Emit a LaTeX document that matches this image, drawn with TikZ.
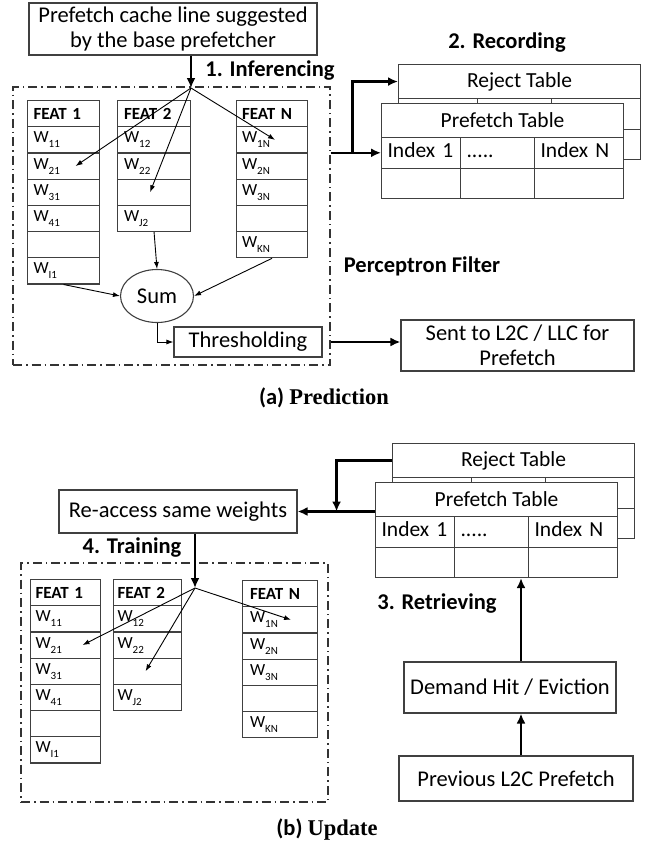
\documentclass[tikz,border=0pt]{standalone}
\usepackage{fontspec}
\setmainfont{Carlito}
\newfontfamily\capfont{Liberation Serif}
\usetikzlibrary{shapes.geometric,arrows.meta}

% weight with subscript
\newcommand{\wgt}[1]{W\raisebox{-5pt}{\fontsize{11}{11}\selectfont #1}}

% one column of perceptron weights: name, left, top, width, cells
\newcommand{\featcol}[5]{%
  \foreach \lab [count=\ri from 0] in {#5}
    \node[wcell, minimum width=#4pt] (#1-\ri) at (#2,{#3+\ri*26.2}) {\lab};%
}

% reject / prefetch table: name, left, top, title, three index cells
\newcommand{\cachetab}[7]{%
  \node[tcell, minimum width=242pt, minimum height=34pt] (#1-h) at (#2,#3) {#4};
  \node[tcell, minimum width=79pt, text width=67pt] (#1-a1) at (#2,{#3+34}) {\strut#5};
  \node[tcell, minimum width=74pt, text width=62pt] (#1-b1) at ({#2+79},{#3+34}) {\strut#6};
  \node[tcell, minimum width=89pt, text width=77pt] (#1-c1) at ({#2+153},{#3+34}) {\strut#7};
  \node[tcell, minimum width=79pt] (#1-a2) at (#2,{#3+64.5}) {};
  \node[tcell, minimum width=74pt] (#1-b2) at ({#2+79},{#3+64.5}) {};
  \node[tcell, minimum width=89pt] (#1-c2) at ({#2+153},{#3+64.5}) {};%
}

\begin{document}
\begin{tikzpicture}[x=1pt, y=-1pt,
    every node/.style={font=\fontsize{22.5}{25}\selectfont},
    box/.style={draw=black!75, line width=1.1pt, inner sep=0pt, align=center},
    wcell/.style={draw=black!75, line width=1.1pt, anchor=north west, inner sep=0pt,
      minimum height=26.2pt, text width=60pt, align=left, font=\fontsize{17}{20}\selectfont},
    tcell/.style={draw=black!75, fill=white, line width=1.1pt, anchor=north west, inner sep=0pt,
      minimum height=30.5pt, align=left, font=\fontsize{21.5}{24}\selectfont},
    frame/.style={draw=black!80, line width=1.4pt, dash pattern=on 9pt off 4pt on 1.5pt off 4pt, inner sep=0pt},
    lbl/.style={font=\fontsize{22.5}{26}\selectfont\bfseries},
    thk/.style={line width=2.6pt, -{Latex[length=10pt,width=9pt]}},
    thn/.style={line width=0.9pt, -{Latex[length=7pt,width=5pt]}}]

    \useasboundingbox (0,0) rectangle (646,846);

    % (a) Prediction
    \node[box, minimum width=288pt, minimum height=52pt] (cand) at (173,29) {Prefetch cache line suggested\\by the base prefetcher};
    \node[frame, minimum width=317pt, minimum height=278pt] (filt) at (171.5,226) {};
    \coordinate (fanA) at (191,88);

    \featcol{pa1}{27}{100}{72}{\textbf{FEAT 1},\wgt{11},\wgt{21},\wgt{31},\wgt{41},{},\wgt{I1}}
    \featcol{pa2}{117}{100}{73}{\textbf{FEAT 2},\wgt{12},\wgt{22},{},\wgt{J2}}
    \featcol{paN}{236}{100}{71}{\textbf{FEAT N},\wgt{1N},\wgt{2N},\wgt{3N},{},\wgt{KN}}

    \node[draw=black!75, line width=1.1pt, ellipse, minimum width=73pt, minimum height=53pt, inner sep=0pt] (sum) at (157,296) {Sum};
    \node[box, minimum width=148pt, minimum height=30pt] (thr) at (248,342) {Thresholding};
    \node[box, minimum width=233pt, minimum height=51pt] (sent) at (517.5,345.5) {Sent to L2C / LLC for\\Prefetch};

    \cachetab{rja}{398}{64}{Reject Table}{}{}{}
    \cachetab{pfa}{381}{103}{Prefetch Table}{Index 1}{.....}{Index N}

    \node[lbl] (inf) at (270,71) {1. Inferencing};
    \node[lbl] (rec) at (507,43) {2. Recording};
    \node[lbl] (perc) at (422,266) {Perceptron Filter};
    \node (capa) at (324,398) {\bfseries (a) {\capfont Prediction}};

    \draw[thk] (cand.south -| fanA) -- (fanA);
    \draw[thn] (fanA) -- ([xshift=12pt]pa1-2.center);
    \draw[thn] (fanA) -- ([xshift=-4pt]pa2-3.center);
    \draw[thn] (fanA) -- ([xshift=3pt]paN-1.center);
    \draw[thn] (pa1-6.south) -- (sum.west);
    \draw[thn] (pa2-4.south) -- (sum.north);
    \draw[thn] (paN-5.south) -- (sum.east);
    \draw[thn] (sum.south) |- (thr.west);
    \draw[thk] (thr.east -| filt.east) -- (thr.east -| sent.west);
    \draw[thk] (pfa-a1.west -| filt.east) -- (pfa-a1.west);
    \draw[thk] ([xshift=22pt]filt.east |- pfa-a1.west) |- (rja-h.west);

    % (b) Update
    \node[box, minimum width=238pt, minimum height=43pt] (reacc) at (178,511.5) {Re-access same weights};
    \node[frame, minimum width=307pt, minimum height=239pt] (trn) at (174.5,682.5) {};
    \coordinate (fanB) at (195,588);

    \featcol{pb1}{30}{579}{70}{\textbf{FEAT 1},\wgt{11},\wgt{21},\wgt{31},\wgt{41},{},\wgt{I1}}
    \featcol{pb2}{113}{579}{68}{\textbf{FEAT 2},\wgt{12},\wgt{22},{},\wgt{J2}}
    \featcol{pbN}{242}{580}{75}{\textbf{FEAT N},\wgt{1N},\wgt{2N},\wgt{3N},{},\wgt{KN}}

    \cachetab{rjb}{392}{443}{Reject Table}{}{}{}
    \cachetab{pfb}{375}{482}{Prefetch Table}{Index 1}{.....}{Index N}

    \node[box, minimum width=212pt, minimum height=51pt] (dem) at (510,687.5) {Demand Hit / Eviction};
    \node[box, minimum width=234pt, minimum height=45pt] (prev) at (516,778.5) {Previous L2C Prefetch};

    \node[lbl] (trlbl) at (132,548) {4. Training};
    \node[lbl] (retr) at (437,604) {3. Retrieving};
    \node (capb) at (327,830) {\bfseries (b) {\capfont Update}};

    \draw[thk] (reacc.east -| pfb-h.west) -- (reacc.east);
    \draw[thk] (rjb-h.west) -| ([xshift=39pt]reacc.east);
    \draw[thk] (reacc.south -| fanB) -- (fanB);
    \draw[thn] (fanB) -- ([xshift=17pt]pb1-2.center);
    \draw[thn] (fanB) -- ([xshift=-2pt]pb2-3.center);
    \draw[thn] (fanB) -- ([xshift=11pt]pbN-1.center);
    \draw[thk] ([xshift=11pt]dem.north) -- ([xshift=11pt]dem.north |- pfb-b2.south);
    \draw[thk] ([xshift=5pt]prev.north) -- ([xshift=11pt]dem.south);

\end{tikzpicture}
\end{document}
